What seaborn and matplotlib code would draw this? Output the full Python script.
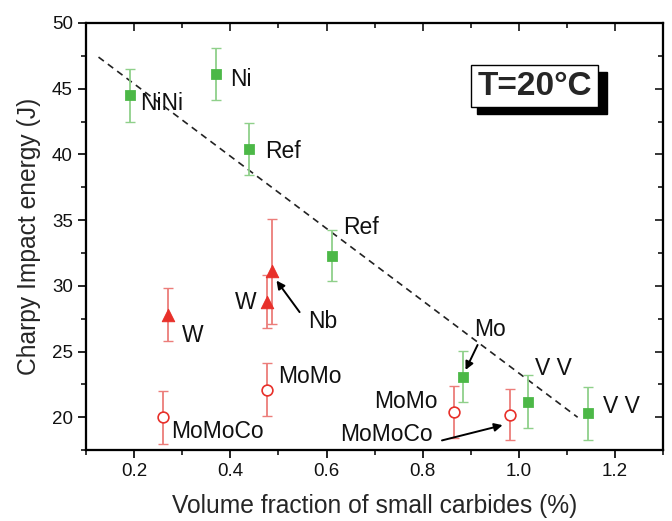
import pandas as pd
import matplotlib.pyplot as plt
from matplotlib.patches import Rectangle
import seaborn as sns

# green squares (Ni / Ref / Mo / V series)
sq_x = [0.192, 0.370, 0.439, 0.612, 0.883, 1.018, 1.144]
sq_y = [44.5, 46.1, 40.4, 32.3, 23.1, 21.2, 20.3]
sq_err = [2.0, 2.0, 2.0, 1.95, 1.95, 2.0, 2.0]

# red filled triangles (W / Nb)
tri_x = [0.270, 0.476, 0.486]
tri_y = [27.8, 28.8, 31.1]
tri_err = [2.0, 2.0, 4.0]

# red open circles (MoMo / MoMoCo)
circ_x = [0.259, 0.476, 0.866, 0.982]
circ_y = [20.0, 22.1, 20.4, 20.2]
circ_err = [2.0, 2.0, 1.95, 1.95]

# dashed trend line
trend_x = [0.126, 1.122]
trend_y = [47.4, 20.0]

# labels: text, x, y, ha
labels = [
    ("NiNi", 0.213, 43.9, "left"),
    ("Ni", 0.400, 45.7, "left"),
    ("Ref", 0.472, 40.2, "left"),
    ("Ref", 0.634, 34.4, "left"),
    ("V V", 1.034, 23.7, "left"),
    ("V V", 1.174, 20.8, "left"),
    ("MoMo", 0.830, 21.2, "right"),
    ("W", 0.300, 26.2, "left"),
    ("W", 0.454, 28.7, "right"),
    ("MoMo", 0.499, 23.1, "left"),
    ("MoMoCo", 0.277, 18.9, "left"),
    ("Mo", 0.907, 26.7, "left"),
    ("Nb", 0.561, 27.25, "left"),
    ("MoMoCo", 0.629, 18.7, "left"),
]

# arrows: (start x, start y, end x, end y)
arrows = [
    (0.914, 25.5, 0.889, 23.6),
    (0.544, 28.0, 0.496, 30.4),
    (0.840, 18.24, 0.966, 19.4),
]

x_major = [0.2, 0.4, 0.6, 0.8, 1.0, 1.2]
x_minor = [0.1, 0.3, 0.5, 0.7, 0.9, 1.1, 1.3]
y_major = [20, 25, 30, 35, 40, 45, 50]
y_minor = [17.5, 22.5, 27.5, 32.5, 37.5, 42.5, 47.5]

green = "#4cb847"
green_light = "#8fd08a"
red = "#e8302a"
red_light = "#ec7d7a"

sns.set_style("white")
plt.rcParams['font.family'] = ['Liberation Sans', 'DejaVu Sans']

fig = plt.figure(figsize=(6.72, 5.21), dpi=100)
ax = fig.add_axes([0.128, 0.136, 0.859, 0.820])

sq = pd.DataFrame({"x": sq_x, "y": sq_y})
tri = pd.DataFrame({"x": tri_x, "y": tri_y})
circ = pd.DataFrame({"x": circ_x, "y": circ_y})

ax.errorbar(sq_x, sq_y, yerr=sq_err, fmt='none', ecolor=green_light, elinewidth=1.3, capsize=3.5, zorder=2)
ax.errorbar(tri_x, tri_y, yerr=tri_err, fmt='none', ecolor=red_light, elinewidth=1.3, capsize=3.5, zorder=2)
ax.errorbar(circ_x, circ_y, yerr=circ_err, fmt='none', ecolor=red_light, elinewidth=1.3, capsize=3.5, zorder=2)

sns.lineplot(x=trend_x, y=trend_y, ax=ax, color="#222222", linestyle=(0, (4, 3)), linewidth=1.2, zorder=1)

sns.scatterplot(data=sq, x="x", y="y", ax=ax, marker="s", s=50, color=green, edgecolor=green, zorder=3)
sns.scatterplot(data=tri, x="x", y="y", ax=ax, marker="^", s=80, color=red, edgecolor=red, zorder=3)
sns.scatterplot(data=circ, x="x", y="y", ax=ax, marker="o", s=60, facecolor="white", edgecolor=red, linewidth=1.2, zorder=3)

for txt, lx, ly, ha in labels:
    ax.text(lx, ly, txt, fontsize=16.5, ha=ha, va="center", color="#111111")

for x0, y0, x1, y1 in arrows:
    ax.annotate("", xy=(x1, y1), xytext=(x0, y0),
                arrowprops=dict(arrowstyle="-|>", color="black", lw=1.4, shrinkA=0, shrinkB=0,
                                mutation_scale=12))

# T=20°C box with shadow
ax.add_patch(Rectangle((0.678, 0.787), 0.224, 0.098, transform=ax.transAxes,
                       facecolor="black", edgecolor="black", zorder=4))
ax.add_patch(Rectangle((0.667, 0.803), 0.220, 0.098, transform=ax.transAxes,
                       facecolor="white", edgecolor="black", lw=1.0, zorder=5))
ax.text(0.777, 0.852, "T=20°C", transform=ax.transAxes, fontsize=24, fontweight="bold",
        ha="center", va="center", zorder=6)

ax.set_xlim(0.1, 1.3)
ax.set_ylim(17.5, 50)
ax.set_xticks(x_major)
ax.set_xticklabels(["0.2", "0.4", "0.6", "0.8", "1.0", "1.2"])
ax.set_yticks(y_major)
ax.set_xticks(x_minor, minor=True)
ax.set_yticks(y_minor, minor=True)
ax.tick_params(axis="both", which="major", direction="out", length=6, width=1.3, labelsize=13.5,
               colors="#111111", bottom=True, left=True)
ax.tick_params(axis="both", which="minor", direction="out", length=3.5, width=1.3, bottom=True, left=True)

# mirrored ticks pointing inward on top and right
top = ax.twiny()
top.set_xlim(ax.get_xlim())
top.set_xticks(x_major)
top.set_xticks(x_minor, minor=True)
top.tick_params(axis="x", which="major", direction="in", length=6, width=1.3,
                top=True, bottom=False, labeltop=False, labelbottom=False)
top.tick_params(axis="x", which="minor", direction="in", length=3.5, width=1.3, top=True, bottom=False)

right = ax.twinx()
right.set_ylim(ax.get_ylim())
right.set_yticks(y_major)
right.set_yticks(y_minor, minor=True)
right.tick_params(axis="y", which="major", direction="in", length=6, width=1.3,
                  right=True, left=False, labelright=False, labelleft=False)
right.tick_params(axis="y", which="minor", direction="in", length=3.5, width=1.3, right=True, left=False)

for a in [ax, top, right]:
    for sp in a.spines.values():
        sp.set_linewidth(1.5)
        sp.set_color("black")

ax.set_xlabel("Volume fraction of small carbides (%)", fontsize=17.7, labelpad=10)
ax.set_ylabel("Charpy Impact energy (J)", fontsize=17.7, labelpad=8)

plt.savefig("out.png", dpi=100)
